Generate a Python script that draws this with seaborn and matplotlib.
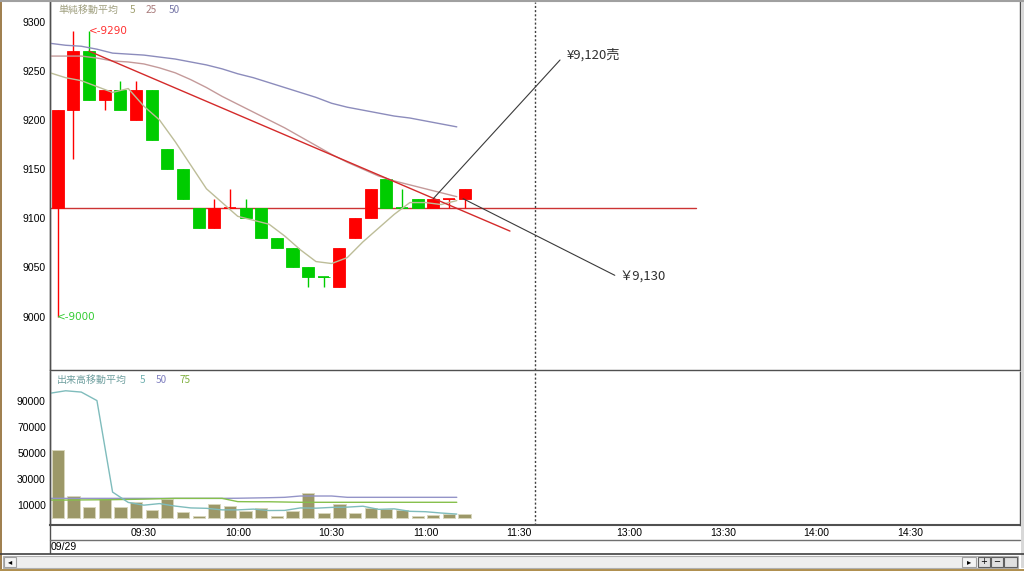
import matplotlib
matplotlib.use("Agg")
import matplotlib.pyplot as plt
import numpy as np
import seaborn as sns
from matplotlib.lines import Line2D
from matplotlib.patches import Rectangle

sns.set_theme(style="white")
plt.rcParams['font.family'] = ['Noto Sans CJK JP', 'DejaVu Sans']

# --- data (5 minute bars, 09/29) ---
times = ["09:00", "09:05", "09:10", "09:15", "09:20", "09:25", "09:30", "09:35", "09:40",
         "09:45", "09:50", "09:55", "10:00", "10:05", "10:10", "10:15", "10:20", "10:25",
         "10:30", "10:35", "10:40", "10:45", "10:50", "10:55", "11:00", "11:05", "11:10"]
opens = [9110, 9210, 9270, 9220, 9230, 9200, 9230, 9170, 9150, 9110, 9090, 9110, 9110, 9110,
         9080, 9070, 9050, 9040, 9030, 9080, 9100, 9140, 9110, 9120, 9110, 9120, 9120]
closes = [9210, 9270, 9220, 9230, 9210, 9230, 9180, 9150, 9120, 9090, 9110, 9110, 9100, 9080,
          9070, 9050, 9040, 9040, 9070, 9100, 9130, 9110, 9110, 9110, 9120, 9120, 9130]
highs = [9210, 9290, 9290, 9230, 9240, 9240, 9230, 9170, 9150, 9110, 9120, 9130, 9120, 9110,
         9080, 9070, 9050, 9040, 9070, 9100, 9130, 9140, 9130, 9120, 9120, 9120, 9130]
lows = [9000, 9160, 9220, 9210, 9210, 9200, 9180, 9150, 9120, 9090, 9090, 9110, 9100, 9080,
        9070, 9050, 9030, 9030, 9030, 9080, 9100, 9110, 9110, 9110, 9110, 9110, 9110]
doji_up = {11: True, 17: False, 22: False, 25: True}

volumes = [52000, 17000, 8500, 14600, 8500, 12500, 6400, 14600, 4900, 1800, 11000, 9500, 5600,
           7700, 2000, 5600, 19200, 4400, 10800, 3900, 8200, 7200, 6400, 1500, 2500, 3100, 3100]

# simple moving averages of price (5 / 25 / 50)
ma5 = [9248, 9243, 9240, 9234, 9228, 9232, 9214, 9200, 9178, 9154, 9130, 9116, 9102, 9098,
       9094, 9082, 9068, 9056, 9054, 9060, 9076, 9090, 9104, 9116, 9116, 9114, 9118]
ma25 = [9265, 9265, 9265, 9263, 9260, 9259, 9257, 9253, 9248, 9241, 9233, 9224, 9216, 9208,
        9200, 9192, 9183, 9174, 9165, 9157, 9150, 9143, 9138, 9134, 9130, 9126, 9122]
ma50 = [9278, 9276, 9275, 9272, 9268, 9267, 9266, 9264, 9262, 9259, 9256, 9252, 9247, 9243,
        9238, 9233, 9228, 9223, 9217, 9213, 9210, 9207, 9204, 9202, 9199, 9196, 9193]

# volume moving averages (5 / 50 / 75)
vma5 = [95600, 97500, 96500, 90000, 20100, 12200, 10100, 11300, 9400, 8000, 7700, 6500, 6500,
        7100, 6000, 6100, 8000, 7800, 8400, 8600, 9300, 6900, 7300, 5400, 5100, 4100, 3300]
vma50 = [15300, 15300, 15300, 15300, 15300, 15300, 15300, 15300, 15300, 15300, 15300, 15300,
         15400, 15600, 15800, 16100, 17100, 17100, 17100, 16100, 16100, 16100, 16100, 16100,
         16100, 16100, 16100]
vma75 = [14000, 14000, 14100, 14200, 14300, 14500, 14700, 15000, 15300, 15300, 15300, 15300,
         12800, 12700, 12700, 12500, 12300, 12300, 12300, 12300, 12300, 12300, 12300, 12300,
         12300, 12300, 12300]

base_price = 9110
trend_x = [2, 28.9]
trend_y = [9270, 9087]
time_ticks = ["09:30", "10:00", "10:30", "11:00", "11:30", "13:00", "13:30", "14:00", "14:30", ""]
tick_pos = [5.5, 11.5, 17.5, 23.5, 29.5, 36.5, 42.5, 48.5, 54.5, 60.5]
price_ticks = [9000, 9050, 9100, 9150, 9200, 9250, 9300]
vol_ticks = [10000, 30000, 50000, 70000, 90000]

W, H = 1024, 571


def fp(x, y):
    return x / W, 1 - y / H


fig = plt.figure(figsize=(W / 100, H / 100), dpi=100)
fig.patch.set_facecolor("white")
ax = fig.add_axes([50 / W, 1 - 370 / H, 970 / W, 368 / H])
axv = fig.add_axes([50 / W, 1 - 525 / H, 970 / W, 153 / H])

n = len(times)
x = np.arange(n)
xm = x - 0.5
RED, GREEN = "#ff0000", "#00cc00"

# ---- price panel ----
colors = []
for i in range(n):
    if closes[i] == opens[i]:
        colors.append(RED if doji_up[i] else GREEN)
    else:
        colors.append(RED if closes[i] > opens[i] else GREEN)

ax.axhline(base_price, xmin=0, xmax=(40.8 + 0.5) / 62, color="#cc3333", lw=1, zorder=2)
ax.vlines(x, lows, highs, colors=colors, lw=1, zorder=3)
body = [c - o if c != o else 0 for o, c in zip(opens, closes)]
ax.bar(x, body, bottom=opens, width=0.77, color=colors, edgecolor=colors, lw=0.6, zorder=4)
for i in range(n):
    if closes[i] == opens[i]:
        ax.hlines(opens[i], i - 0.36, i + 0.36, color=colors[i], lw=1.2, zorder=4)

sns.lineplot(x=xm, y=ma50, ax=ax, color="#8c8cbc", lw=1, legend=False, zorder=5)
sns.lineplot(x=xm, y=ma25, ax=ax, color="#c49a9a", lw=1, legend=False, zorder=5)
sns.lineplot(x=xm, y=ma5, ax=ax, color="#bdbd98", lw=1, legend=False, zorder=5)
sns.lineplot(x=trend_x, y=trend_y, ax=ax, color="#d42a2a", lw=1, legend=False, zorder=5)

# order annotations
ax.plot([24.0, 32.1], [9120, 9261], color="#3a3a3a", lw=0.8, zorder=6)
ax.plot([25.9, 35.6], [9120, 9042], color="#3a3a3a", lw=0.8, zorder=6)
ax.text(32.5, 9266, "¥9,120売", fontsize=9.5, color="#303030", va="center", ha="left")
ax.text(35.9, 9041, "￥9,130", fontsize=9.5, color="#303030", va="center", ha="left")

ax.text(2.0, 9290, "<-9290", fontsize=7.5, color="#ff3030", va="center", ha="left",
        family="DejaVu Sans")
ax.text(-0.05, 9000, "<-9000", fontsize=7.5, color="#33cc33", va="center", ha="left",
        family="DejaVu Sans")

ax.set_xlim(-0.5, 61.5)
ax.set_ylim(8945.7, 9320)
ax.set_xticks([])
ax.set_yticks(price_ticks)
ax.tick_params(axis="y", length=0, pad=3, labelsize=7.5, labelcolor="black")
for lbl in ax.get_yticklabels():
    lbl.set_family("Liberation Sans")
ax.axvline(30.5, color="#404040", ls=(0, (1.5, 1.5)), lw=1)

# ---- volume panel ----
axv.bar(x, volumes, width=0.78, color="#9c9868", edgecolor="#d8d6bc", lw=0.7, zorder=2)
sns.lineplot(x=xm, y=vma50, ax=axv, color="#9494c8", lw=1, legend=False, zorder=3)
sns.lineplot(x=xm, y=vma75, ax=axv, color="#86c04c", lw=1, legend=False, zorder=3)
sns.lineplot(x=xm, y=vma5, ax=axv, color="#7fbcbc", lw=1, legend=False, zorder=4)
axv.axvline(30.5, color="#404040", ls=(0, (1.5, 1.5)), lw=1)

axv.set_xlim(-0.5, 61.5)
axv.set_ylim(-5050, 111840)
axv.set_yticks(vol_ticks)
axv.set_xticks(tick_pos)
axv.set_xticklabels(time_ticks)
axv.tick_params(axis="y", length=0, pad=3, labelsize=7.5, labelcolor="black")
axv.tick_params(axis="x", direction="in", length=2, width=1, color="#606060", pad=2.5,
                labelsize=7.5, labelcolor="black")
for lbl in axv.get_yticklabels() + axv.get_xticklabels():
    lbl.set_family("Liberation Sans")

for a in (ax, axv):
    a.set_facecolor("white")
    a.set_xlabel("")
    a.set_ylabel("")
    a.grid(False)
    for s in a.spines.values():
        s.set_color("#505050")
        s.set_linewidth(1)
ax.spines["top"].set_visible(False)
axv.spines["top"].set_visible(False)
axv.spines["bottom"].set_linewidth(1.5)

# ---- legend texts ----
def ftext(px, py, s, color, size=7.2):
    fig.text(*fp(px, py), s, color=color, fontsize=size, va="center", ha="left")

ftext(58, 10, "単純移動平均", "#a0a080")
ftext(130, 10, "5", "#a0a070")
ftext(146, 10, "25", "#a87a7a")
ftext(169, 10, "50", "#7878a8")
ftext(57, 380, "出来高移動平均", "#70a0a0")
ftext(140, 380, "5", "#70b0b0")
ftext(156, 380, "50", "#8080c0")
ftext(180, 380, "75", "#80b040")
fig.text(*fp(51, 547), "09/29", color="black", fontsize=7.5, va="center", ha="left",
         family="Liberation Sans")

# ---- window chrome ----
def fline(x0, y0, x1, y1, color, lw=1):
    fig.add_artist(Line2D([x0 / W, x1 / W], [1 - y0 / H, 1 - y1 / H], color=color, lw=lw))

def frect(x0, y0, w, h, fc, ec="none", lw=0.8):
    fig.add_artist(Rectangle((x0 / W, 1 - (y0 + h) / H), w / W, h / H, facecolor=fc,
                             edgecolor=ec, lw=lw))

fline(50, 0, 50, 553, "#505050")
fline(50, 540, 1020, 540, "#707070")
fline(0, 553.5, 1024, 553.5, "#404040", 1.2)
fline(0, 1, 1024, 1, "#a0a0a0", 1.5)
frect(0, 0, 2, 571, "#a08050")
frect(0, 569, 1024, 2, "#b09050")
frect(1020.5, 0, 3.5, 568, "#d8d8d8")
frect(3, 556, 1015, 12, "#eeeeee", "#b0b0b0")
frect(4, 557, 12, 10, "#f4f4f4", "#a0a0a0")
fig.text(*fp(10, 562), "◂", fontsize=6, color="black", ha="center", va="center",
         family="DejaVu Sans")
frect(962, 557, 14, 10, "#f4f4f4", "#a0a0a0")
fig.text(*fp(969, 562), "▸", fontsize=6, color="black", ha="center", va="center",
         family="DejaVu Sans")
frect(978, 557, 12, 10, "#e0e0e0", "#606060")
frect(991, 557, 12, 10, "#e0e0e0", "#606060")
frect(1004, 557, 13, 10, "#e0e0e0", "#606060")
fig.text(*fp(984, 562), "+", fontsize=6, color="black", ha="center", va="center",
         family="DejaVu Sans")
fig.text(*fp(997, 562), "−", fontsize=6, color="black", ha="center", va="center",
         family="DejaVu Sans")

fig.savefig("out.png", dpi=100)
